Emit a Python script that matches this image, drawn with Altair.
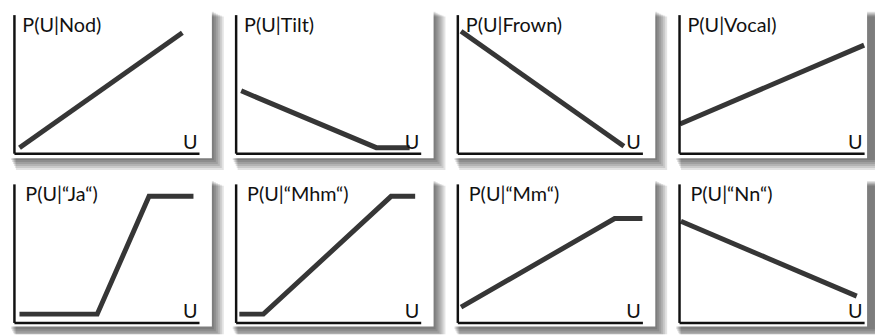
import altair as alt
import pandas as pd

# ---- data (U on 0..100, P on 0..100) ----
titles = ["P(U|Nod)", "P(U|Tilt)", "P(U|Frown)", "P(U|Vocal)",
          "P(U|“Ja“)", "P(U|“Mhm“)", "P(U|“Mm“)", "P(U|“Nn“)"]

nod_u = [3, 91]
nod_p = [4, 87]
tilt_u = [3, 76, 94]
tilt_p = [45, 4, 4]
frown_u = [2, 90]
frown_p = [88, 5]
vocal_u = [0.5, 100]
vocal_p = [21, 78]
ja_u = [3, 45, 73, 97]
ja_p = [6, 6, 91, 91]
mhm_u = [2, 15, 84, 97]
mhm_p = [6, 6, 91, 91]
mm_u = [2, 85, 100]
mm_p = [11, 75, 75]
nn_u = [1, 96]
nn_p = [73, 19]

series = [(nod_u, nod_p), (tilt_u, tilt_p), (frown_u, frown_p), (vocal_u, vocal_p),
          (ja_u, ja_p), (mhm_u, mhm_p), (mm_u, mm_p), (nn_u, nn_p)]

# ---- style ----
W, H = 187, 140
FONT = "Lato"
LINE_COLOR = "#363636"
AXIS_COLOR = "#111111"
WHITE_R, WHITE_B = 13, 5   # white card edge beyond the axes


def panel(title, u, p, title_dx, max_r, max_b):
    df = pd.DataFrame({"u": u, "p": p})
    one = alt.Data(values=[{"k": 0}])
    layers = []
    # soft drop shadow (decoration), clipped where the picture edge would cut it
    for k in range(1, 7):
        layers.append(
            alt.Chart(one).mark_rect(fill="#000000", opacity=0.11).encode(
                x=alt.value(-4 + k), x2=alt.value(min(W + WHITE_R + 2 * k, W + max_r)),
                y=alt.value(-4 + k), y2=alt.value(min(H + WHITE_B + 2 * k, H + max_b))))
    layers.append(
        alt.Chart(one).mark_rect(fill="white").encode(
            x=alt.value(-4), x2=alt.value(min(W + WHITE_R, W + max_r - 8)),
            y=alt.value(-4), y2=alt.value(min(H + WHITE_B, H + max_b - 8))))
    line = alt.Chart(df).mark_line(color=LINE_COLOR, strokeWidth=5).encode(
        x=alt.X("u:Q", scale=alt.Scale(domain=[0, 100], nice=False, zero=False),
                axis=alt.Axis(title="U", labels=False, ticks=False, grid=False,
                              domainColor=AXIS_COLOR, domainWidth=2.5, zindex=1,
                              titleFont=FONT, titleFontSize=20, titleFontWeight="normal",
                              titleColor=AXIS_COLOR, titleAngle=0, titleAlign="right",
                              titleBaseline="alphabetic", titleX=W - 2, titleY=-5)),
        y=alt.Y("p:Q", scale=alt.Scale(domain=[0, 100], nice=False, zero=False),
                axis=alt.Axis(title=title, labels=False, ticks=False, grid=False,
                              domainColor=AXIS_COLOR, domainWidth=2.5, zindex=1,
                              titleFont=FONT, titleFontSize=20, titleFontWeight="normal",
                              titleColor=AXIS_COLOR, titleAngle=0, titleAlign="left",
                              titleBaseline="alphabetic", titleX=title_dx, titleY=17)),
    )
    layers.append(line)
    return alt.layer(*layers).properties(width=W, height=H)


panels = []
for i, (t, (u, p)) in enumerate(zip(titles, series)):
    col, row = i % 4, i // 4
    max_r = 11 if col == 3 else 40
    max_b = 12 if row == 1 else 40
    panels.append(panel(t, u, p, 8 if row == 0 else 11, max_r, max_b))

chart = alt.concat(*panels, columns=4, spacing={"row": 31, "column": 37},
                   bounds="flush").properties(
    padding={"left": 1, "top": 1, "right": 0, "bottom": 0}
).configure_view(strokeWidth=0)

chart.save("out.html", embed_options={"renderer": "svg", "actions": False})
